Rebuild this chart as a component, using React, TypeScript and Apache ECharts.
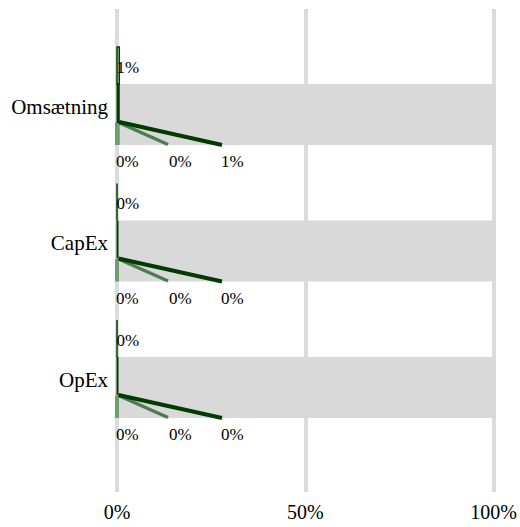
import React, { useEffect, useRef } from 'react';
import * as echarts from 'echarts';

const categories = ['Omsætning', 'CapEx', 'OpEx'];
const alignedValues = [0.6, 0, 0];
const totalValues = [100, 100, 100];
const lightValues = [0.2, 0, 0];
const mediumValues = [0.4, 0, 0];
const darkValues = [0.6, 0, 0];
const xTickValues = [0, 50, 100];

const FONT = 'Liberation Serif';
const DARK = '#003b00';
const MEDIUM = '#4e7b52';
const LIGHT = '#6f9f70';
const PALE = '#cfe6c6';

const fmt = (v: number) => Math.round(v) + '%';

function seriesData(values: number[]) {
  return values.map((v, i) => [i, v]);
}

export default function App() {
  const ref = useRef<HTMLDivElement>(null);
  useEffect(() => {
    if (!ref.current) return;
    const chart = echarts.init(ref.current, null, { renderer: 'svg' });
    const label = (x: number, y: number, text: string) => ({
      type: 'text',
      style: { x, y, text, fill: '#000', font: `17px "${FONT}"`, textAlign: 'left', textVerticalAlign: 'middle' },
    });
    chart.setOption({
      animation: false,
      grid: [
        { left: 117, right: 25.5, top: 9, bottom: 35 },
        { left: 117, right: 25.5, top: 38.25, bottom: 79.25 },
      ],
      xAxis: [
        {
          gridIndex: 0, type: 'value', min: xTickValues[0], max: xTickValues[xTickValues.length - 1], interval: 50,
          axisLine: { show: false }, axisTick: { show: false },
          splitLine: { show: true, lineStyle: { color: '#dcdcdc', width: 4 } },
          axisLabel: { formatter: (v: number) => v + '%', color: '#000', fontFamily: FONT, fontSize: 20, margin: 10 },
        },
        { gridIndex: 1, type: 'value', min: 0, max: 100, show: false },
      ],
      yAxis: [
        { gridIndex: 0, type: 'value', show: false },
        {
          gridIndex: 1, type: 'category', data: categories, inverse: true,
          axisLine: { show: false }, axisTick: { show: false }, splitLine: { show: false },
          axisLabel: { color: '#000', fontFamily: FONT, fontSize: 21, margin: 9 },
        },
      ],
      series: [
        {
          type: 'custom', name: 'Total', xAxisIndex: 1, yAxisIndex: 1, data: seriesData(totalValues),
          encode: { x: 1, y: 0 },
          renderItem: (params: any, api: any) => {
            const idx = api.value(0);
            const [x0, c] = api.coord([0, idx]);
            const x1 = api.coord([api.value(1), idx])[0];
            return { type: 'rect', shape: { x: x0, y: c - 22.5, width: x1 - x0 + 1.5, height: 61 }, style: { fill: '#d9d9d9' } };
          },
        },
        {
          type: 'custom', name: 'Light', xAxisIndex: 1, yAxisIndex: 1, data: seriesData(lightValues),
          encode: { x: 1, y: 0 },
          renderItem: (params: any, api: any) => {
            const idx = api.value(0);
            const [x0, c] = api.coord([0, idx]);
            const x1 = api.coord([api.value(1), idx])[0];
            return {
              type: 'group',
              children: [
                { type: 'rect', shape: { x: x0 - 2, y: c + 16, width: Math.max(x1 - x0, 0) + 4, height: 22.5 }, style: { fill: LIGHT } },
                label(x0 - 1, c + 55, fmt(api.value(1))),
              ],
            };
          },
        },
        {
          type: 'custom', name: 'Medium', xAxisIndex: 1, yAxisIndex: 1, data: seriesData(mediumValues),
          encode: { x: 1, y: 0 },
          renderItem: (params: any, api: any) => {
            const idx = api.value(0);
            const [x0, c] = api.coord([0, idx]);
            const x1 = api.coord([api.value(1), idx])[0];
            return {
              type: 'group',
              children: [
                { type: 'line', shape: { x1: Math.max(x1, x0 + 1.5), y1: c + 16, x2: x0 + 51, y2: c + 38 }, style: { stroke: MEDIUM, lineWidth: 3.5 } },
                label(x0 + 52, c + 55, fmt(api.value(1))),
              ],
            };
          },
        },
        {
          type: 'custom', name: 'Dark', xAxisIndex: 1, yAxisIndex: 1, data: seriesData(darkValues),
          encode: { x: 1, y: 0 },
          renderItem: (params: any, api: any) => {
            const idx = api.value(0);
            const [x0, c] = api.coord([0, idx]);
            const x1 = api.coord([api.value(1), idx])[0];
            return {
              type: 'group',
              children: [
                { type: 'rect', shape: { x: x0 + 0.5, y: c - 22.5, width: Math.max(x1 - x0 - 1, 0), height: 38 }, style: { fill: DARK, stroke: DARK, lineWidth: 2 } },
                { type: 'line', shape: { x1: Math.max(x1, x0 + 1.5), y1: c + 15.5, x2: x0 + 105, y2: c + 38.5 }, style: { stroke: DARK, lineWidth: 4 } },
                label(x0 + 104, c + 55, fmt(api.value(1))),
              ],
            };
          },
        },
        {
          type: 'custom', name: 'Aligned', xAxisIndex: 1, yAxisIndex: 1, data: seriesData(alignedValues),
          encode: { x: 1, y: 0 },
          renderItem: (params: any, api: any) => {
            const idx = api.value(0);
            const [x0, c] = api.coord([0, idx]);
            const x1 = api.coord([api.value(1), idx])[0];
            return {
              type: 'group',
              children: [
                { type: 'rect', shape: { x: x0, y: c - 59.5, width: x1 - x0, height: 37 }, style: { fill: PALE, stroke: DARK, lineWidth: 1.5 } },
                label(x0 - 0.5, c - 39.5, fmt(api.value(1))),
              ],
            };
          },
        },
      ],
    });
    return () => chart.dispose();
  }, []);
  return <div ref={ref} style={{ position: 'absolute', left: 0, top: 0, width: 520, height: 527 }} />;
}
